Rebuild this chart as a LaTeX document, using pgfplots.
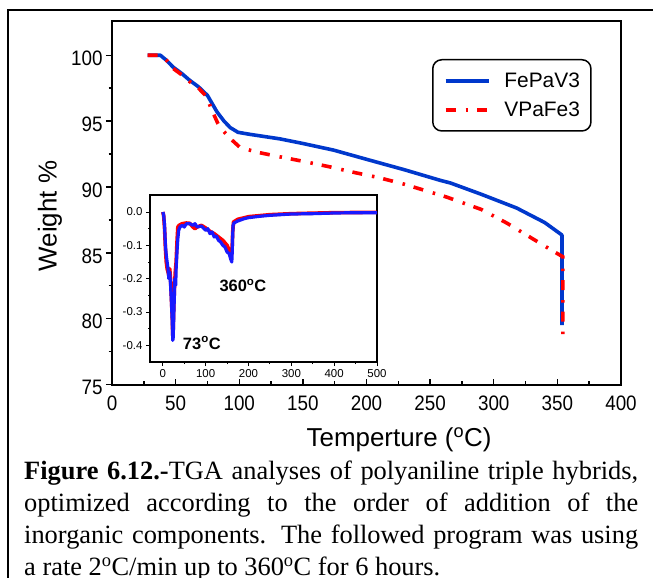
\documentclass[border=0pt]{standalone}
\usepackage{pgfplots}
\pgfplotsset{compat=1.18}
\usepackage{fontspec}
\setmainfont{Liberation Serif}
\newfontfamily\arial{Liberation Sans}
\newfontfamily\arialn[FakeStretch=0.9]{Liberation Sans}
\definecolor{mblue}{RGB}{0,56,204}
\definecolor{iblue}{RGB}{25,25,255}
\definecolor{mred}{RGB}{255,0,0}
\begin{document}
\begin{tikzpicture}
\useasboundingbox (0,0) rectangle (653bp,-578bp);
\clip (0,0) rectangle (653bp,-578bp);
\draw[line width=1.6bp] (8bp,-600bp) -- (8bp,-10bp) -- (670bp,-10bp);

\begin{axis}[
  at={(112bp,-384.5bp)}, anchor=south west, scale only axis,
  width=509bp, height=363.5bp,
  xmin=0, xmax=400, ymin=75, ymax=102.6,
  xtick={0,50,...,400}, ytick={75,80,85,90,95,100},
  minor x tick num=1, minor y tick num=1,
  xtick pos=bottom, ytick pos=left,
  xtick align=inside, ytick align=outside,
  major tick length=6bp, minor tick length=3.5bp,
  axis line style={line width=2bp},
  every tick/.append style={line width=1.4bp, black},
  /pgf/number format/assume math mode=true,
  ticklabel style={font=\arialn\fontsize{21}{21}\selectfont},
  yticklabel style={yshift=-3bp},
  xticklabel style={yshift=-8bp},
  label style={font=\arial\fontsize{26}{26}\selectfont},
  xlabel={Temperture (\textsuperscript{o}C)},
  ylabel={Weight \%},
  xlabel style={at={(axis description cs:0.564,-0.1527)}, anchor=center},
  ylabel style={at={(axis description cs:-0.1218,0.4635)}, anchor=center},
  legend image code/.code={\draw[#1] (0bp,0bp) -- (43bp,0bp); \path (57bp,0bp);},
  legend style={at={(axis description cs:0.6287,0.8955)}, anchor=north west,
    draw=black, line width=1.5bp, rounded corners=9bp,
    inner xsep=11bp, inner ysep=13bp,
    font=\arial\fontsize{21}{21}\selectfont, row sep=13bp,
    nodes={inner sep=0pt}},
  legend cell align=left,
]
\addplot[mblue, line width=3.6bp, line join=round] coordinates {
(28,100) (38,100) (43,99.6) (48,99.1) (55,98.6) (61,98.1) (68,97.6) (75,96.95)
(82.5,95.7) (88,95.0) (93,94.5) (99,94.15) (108,94.0) (132,93.65) (150,93.3)
(174,92.8) (200,92.1) (230,91.3) (258,90.5) (266,90.3) (290,89.45) (318,88.4)
(340,87.3) (353.6,86.35) (353.6,79.5)
};
\addlegendentry{FePaV3}
\addplot[mred, line width=3.6bp, dash pattern=on 10bp off 10bp on 2.5bp off 9bp] coordinates {
(28,100) (38,100) (43,99.6) (48,99.0) (55,98.5) (61,98.0) (68,97.5) (74,96.9)
(78.6,95.8) (83.3,94.8) (88,94.2) (92.7,93.7) (100.6,93.0) (114,92.64) (129.7,92.33)
(150,91.95) (170,91.55) (189.4,91.12) (210,90.7) (230,90.2) (263,89.23) (290,88.3)
(310.4,87.25) (330,86.1) (346.6,85.13) (354.3,84.7) (354.3,78.15)
};
\addlegendentry{VPaFe3}
\end{axis}

\begin{axis}[
  at={(150bp,-362bp)}, anchor=south west, scale only axis,
  width=227bp, height=167bp,
  xmin=-30, xmax=500, ymin=-0.45, ymax=0.051,
  xtick={0,100,200,300,400,500}, ytick={-0.4,-0.3,-0.2,-0.1,0},
  minor x tick num=1, minor y tick num=1,
  tick align=outside, xtick pos=bottom, ytick pos=left,
  major tick length=4bp, minor tick length=2bp,
  axis line style={line width=1.3bp},
  every tick/.append style={line width=1bp, black},
  axis background/.style={fill=white},
  /pgf/number format/assume math mode=true,
  ticklabel style={font=\arial\fontsize{11.5}{11.5}\selectfont},
  yticklabel style={/pgf/number format/.cd, fixed, fixed zerofill, precision=1},
]
\addplot[mred, line width=3.6bp, line join=round] coordinates {
(0,0.0) (2,-0.012) (4,-0.05) (6,-0.11) (8,-0.15) (10,-0.17) (12,-0.18) (14,-0.19)
(16,-0.17) (18,-0.2) (20,-0.26) (22,-0.32) (23,-0.37) (24,-0.36) (25,-0.31)
(27,-0.23) (29,-0.18) (31,-0.15) (33,-0.09) (35,-0.045) (38,-0.04) (45,-0.035)
(55,-0.033) (63,-0.034) (70,-0.045) (75,-0.05) (80,-0.045) (90,-0.04) (100,-0.048)
(110,-0.058) (120,-0.065) (130,-0.075) (140,-0.085) (150,-0.1) (155,-0.115)
(160,-0.13) (162,-0.1) (163,-0.06) (165,-0.03) (175,-0.022) (200,-0.014)
(250,-0.008) (300,-0.005) (400,-0.002) (500,-0.001)
};
\addplot[iblue, line width=3.2bp, line join=round] coordinates {
(0,0.0) (2,-0.01) (4,-0.04) (6,-0.1) (8,-0.13) (10,-0.15) (12,-0.17) (14,-0.2)
(16,-0.18) (18,-0.22) (20,-0.27) (22,-0.33) (23,-0.385) (24,-0.38) (25,-0.34)
(26,-0.29) (27,-0.25) (28,-0.2) (30,-0.22) (31,-0.17) (33,-0.12) (35,-0.08)
(37,-0.055) (40,-0.045) (45,-0.04) (50,-0.045) (55,-0.035) (63,-0.035) (70,-0.04)
(75,-0.035) (80,-0.045) (90,-0.042) (100,-0.055) (105,-0.05) (110,-0.065)
(115,-0.06) (120,-0.075) (125,-0.072) (130,-0.085) (135,-0.09) (140,-0.1)
(145,-0.105) (150,-0.12) (155,-0.125) (158,-0.14) (161,-0.15) (162,-0.12)
(163,-0.075) (164,-0.04) (166,-0.033) (175,-0.027) (190,-0.02) (200,-0.017)
(225,-0.013) (250,-0.01) (275,-0.008) (300,-0.006) (350,-0.005) (400,-0.003)
(450,-0.002) (500,-0.002)
};
\node[font=\arial\bfseries\fontsize{16.5}{16.5}\selectfont] at (axis cs:187,-0.22) {360\textsuperscript{o}C};
\node[font=\arial\bfseries\fontsize{16.5}{16.5}\selectfont] at (axis cs:91,-0.393) {73\textsuperscript{o}C};
\end{axis}

\node[anchor=north west, inner sep=0pt, text width=614bp, align=justify,
  font=\fontsize{26.5}{32}\selectfont] at (24bp,-461bp)
  {\textbf{Figure 6.12.-}TGA analyses of polyaniline triple hybrids,\linebreak
   optimized according to the order of addition of the\linebreak
   inorganic components. The followed program was using\linebreak
   a rate 2\textsuperscript{o}C/min up to 360\textsuperscript{o}C for 6 hours.};
\end{tikzpicture}
\end{document}
